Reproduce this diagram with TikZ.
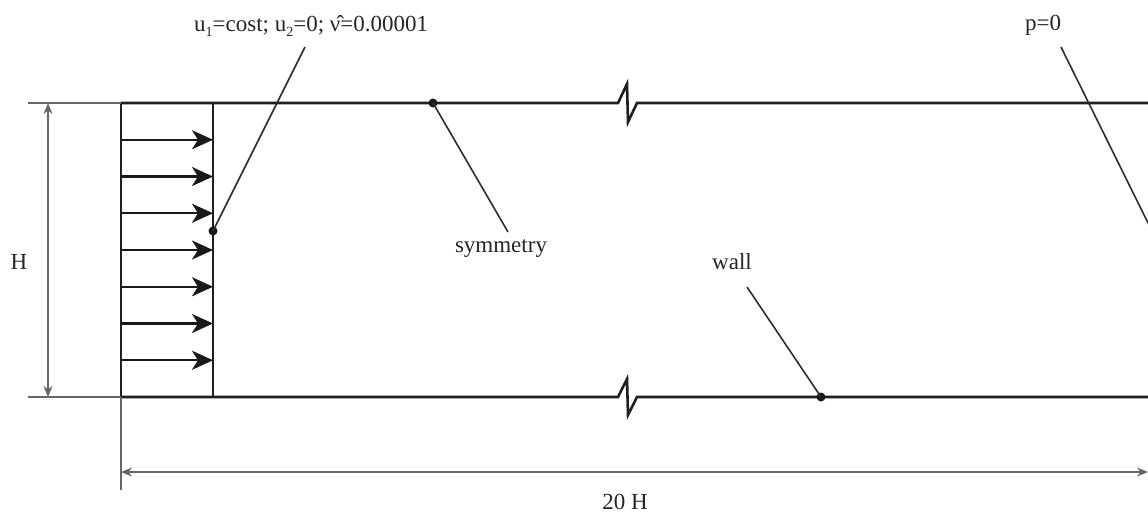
\documentclass[tikz,border=0pt]{standalone}
\usepackage{fontspec}
\setmainfont{Liberation Serif}
\usetikzlibrary{arrows.meta}
\newcommand{\lowsub}[1]{\raisebox{-0.5ex}{\fontsize{14}{14}\selectfont #1}}
\begin{document}
\begin{tikzpicture}[x=1pt,y=-1pt,
  wallline/.style={line width=2.6pt, black!88, line join=miter},
  dimline/.style={line width=1.4pt, black!60},
  leader/.style={line width=1.6pt, black!82},
  flowarrow/.style={line width=2.4pt, black!90, -{Stealth[length=21pt,width=19pt,inset=6pt]}},
  dimarrow/.style={dimline, {Stealth[length=11pt,width=9pt]}-{Stealth[length=11pt,width=9pt]}},
  lbl/.style={font=\fontsize{23}{27}\selectfont, inner sep=0pt, text=black!85},
  dotmark/.style={circle, fill=black!90, inner sep=0pt, minimum size=9pt}]
\useasboundingbox (0,0) rectangle (1148,512);
\fill[white] (0,0) rectangle (1148,512);
\begin{scope}
\clip (0,0) rectangle (1148,512);
% coordinates
\coordinate (TL) at (121,103);
\coordinate (BL) at (121,397);
\coordinate (TI) at (213,103);
\coordinate (BI) at (213,397);
\coordinate (TR) at (1148,103);
\coordinate (BR) at (1148,397);
% channel walls with breaks
\draw[wallline] (TL) -- (618,103) -- (627,84) -- (628,122) -- (637,103) -- (TR);
\draw[wallline] (BL) -- (618,397) -- (627,379) -- (628,415) -- (637,397) -- (BR);
\draw[wallline] (TL) -- (BL);
\draw[wallline] (TI) -- (BI);
% inlet arrows
\foreach \i in {1,...,7} {
  \coordinate (a\i) at (122,{103+36.75*\i});
  \coordinate (b\i) at (213,{103+36.75*\i});
  \draw[flowarrow] (a\i) -- (b\i);
}
% H dimension
\coordinate (hx1) at (28,103);
\coordinate (hx2) at (28,397);
\draw[dimline] (hx1) -- (TL);
\draw[dimline] (hx2) -- (BL);
\coordinate (hd1) at (48,103);
\coordinate (hd2) at (48,397);
\draw[dimarrow] (hd1) -- (hd2);
\node[lbl, anchor=base] (hlabel) at (19,269) {H};
% length dimension
\coordinate (ext) at (121,490);
\draw[dimline] (BL) -- (ext);
\coordinate (ld1) at (121,472);
\coordinate (ld2) at (1148,472);
\draw[dimarrow] (ld1) -- (ld2);
\node[lbl, anchor=base] (llabel) at (625,509) {20 H};
% labels
\node[lbl, anchor=base west] (inlet) at (194,31) {u\lowsub{1}=cost; u\lowsub{2}=0; \^{ν}=0.00001};
\node[dotmark] (indot) at (213,231) {};
\coordinate (inend) at (305,47);
\draw[leader] (indot.center) -- (inend);

\node[dotmark] (symdot) at (433,103) {};
\node[lbl, anchor=base] (sym) at (501,252) {symmetry};
\coordinate (symend) at (508,232);
\draw[leader] (symdot.center) -- (symend);

\node[dotmark] (walldot) at (821,397) {};
\node[lbl, anchor=base] (wall) at (732,269) {wall};
\coordinate (wallend) at (747,287);
\draw[leader] (walldot.center) -- (wallend);

\node[lbl, anchor=base] (outlet) at (1043,30) {p=0};
\coordinate (outstart) at (1061,47);
\coordinate (outend) at (1150,227);
\draw[leader] (outstart) -- (outend);
\end{scope}
\end{tikzpicture}
\end{document}
